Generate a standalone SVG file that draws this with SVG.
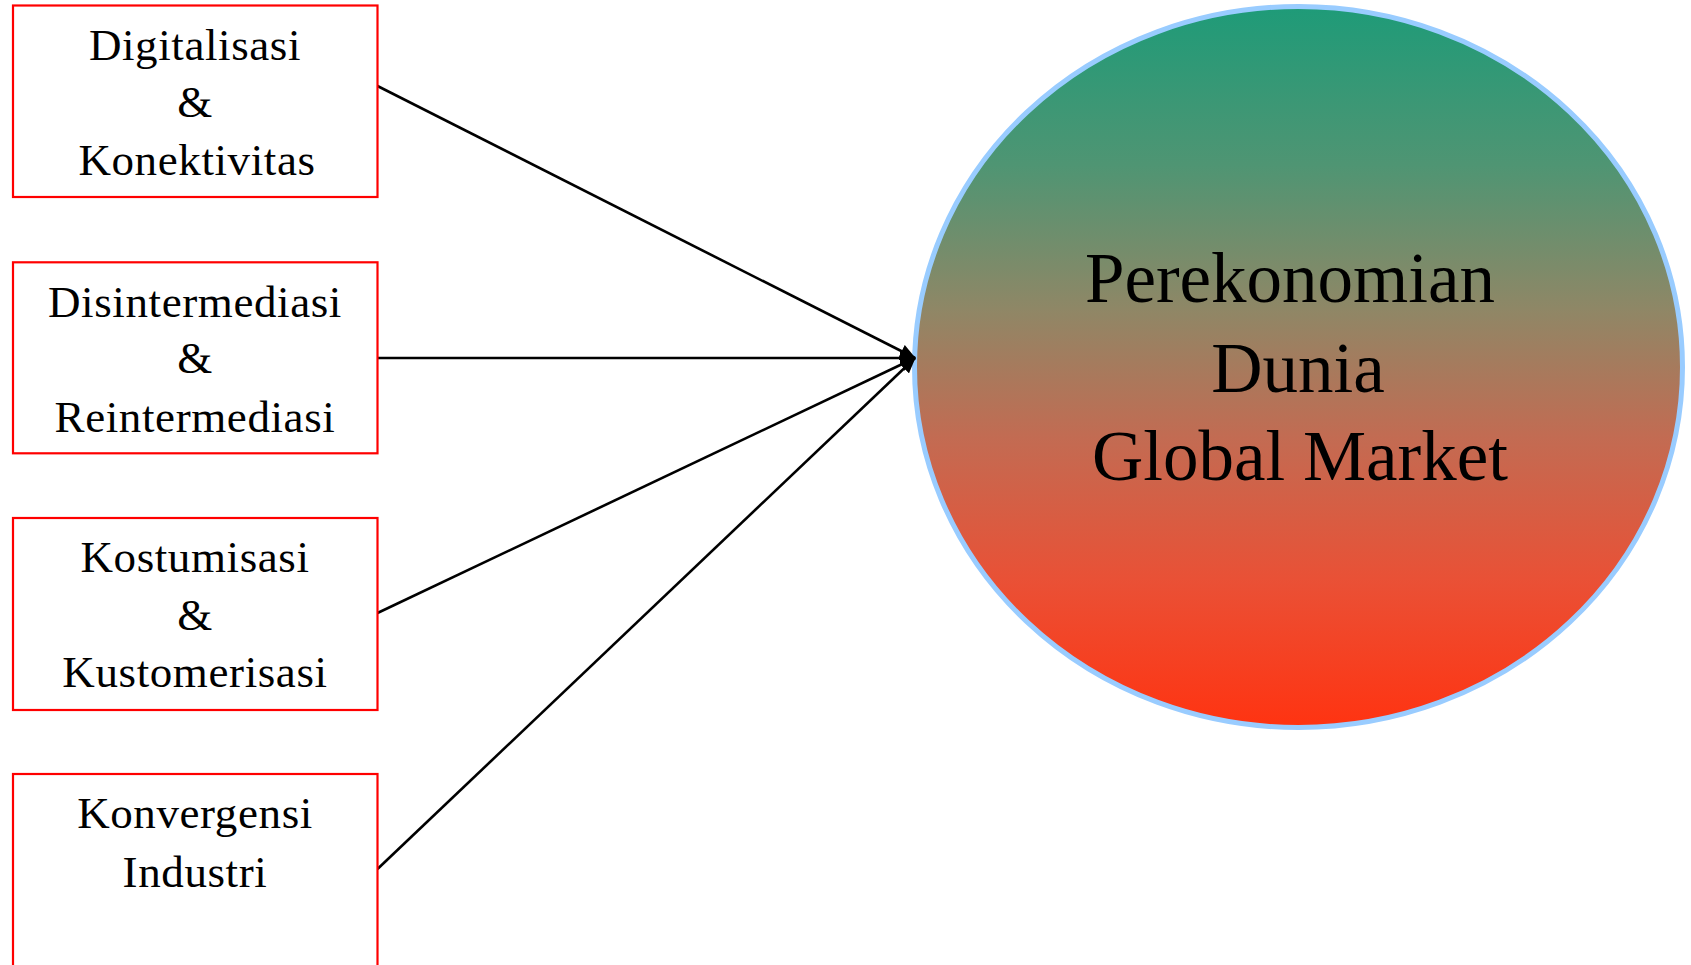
<svg xmlns="http://www.w3.org/2000/svg" width="1691" height="965" viewBox="0 0 1691 965">
<style>
.box{fill:#ffffff;stroke:#ff0000;stroke-width:2.2}
.t{font-family:"Liberation Serif","Times New Roman",serif;font-size:45px;letter-spacing:0.6px;fill:#000;text-anchor:middle}
.big{font-family:"Liberation Serif","Times New Roman",serif;font-size:71px;fill:#000;text-anchor:middle}
.conn{stroke:#000;stroke-width:2.6;fill:none;marker-end:url(#arrow)}
</style>
<defs>
<linearGradient id="grad" x1="0" y1="0" x2="0" y2="1">
<stop offset="0" stop-color="#1E9B78"/>
<stop offset="0.22" stop-color="#4F9573"/>
<stop offset="0.42" stop-color="#8F8766"/>
<stop offset="0.6" stop-color="#C36B52"/>
<stop offset="0.8" stop-color="#EA5035"/>
<stop offset="1" stop-color="#FF3311"/>
</linearGradient>
<marker id="arrow" markerUnits="userSpaceOnUse" markerWidth="16" markerHeight="14" refX="15" refY="7" orient="auto">
<path d="M0,0 L16,7 L0,14 z" fill="#000"/>
</marker>
</defs>
<rect width="1691" height="965" fill="#ffffff"/>
<g id="node-ellipse">
<ellipse cx="1298.5" cy="367" rx="384" ry="360.5" fill="url(#grad)" stroke="#99CCFF" stroke-width="5"/>
<text class="big" x="1290" y="302">Perekonomian</text>
<text class="big" x="1298" y="392">Dunia</text>
<text class="big" x="1300" y="480">Global Market</text>
</g>
<g id="connectors">
<line class="conn" x1="377.5" y1="86" x2="915" y2="358"/>
<line class="conn" x1="377.5" y1="358" x2="915" y2="358"/>
<line class="conn" x1="377.5" y1="613" x2="915" y2="358"/>
<line class="conn" x1="377.5" y1="869" x2="915" y2="358"/>
</g>
<g id="node-1">
<rect class="box" x="13" y="5.5" width="364.5" height="191.5"/>
<text class="t" x="195" y="60">Digitalisasi</text>
<text class="t" x="195" y="117">&amp;</text>
<text class="t" x="197" y="175">Konektivitas</text>
</g>
<g id="node-2">
<rect class="box" x="13" y="262.3" width="364.5" height="191"/>
<text class="t" x="195" y="316.7">Disintermediasi</text>
<text class="t" x="195" y="373">&amp;</text>
<text class="t" x="195" y="431.7">Reintermediasi</text>
</g>
<g id="node-3">
<rect class="box" x="13" y="518" width="364.5" height="192"/>
<text class="t" x="195" y="571.7">Kostumisasi</text>
<text class="t" x="195" y="630">&amp;</text>
<text class="t" x="195" y="686.7">Kustomerisasi</text>
</g>
<g id="node-4">
<rect class="box" x="13" y="774" width="364.5" height="220"/>
<text class="t" x="195" y="828">Konvergensi</text>
<text class="t" x="195" y="887">Industri</text>
</g>
</svg>
